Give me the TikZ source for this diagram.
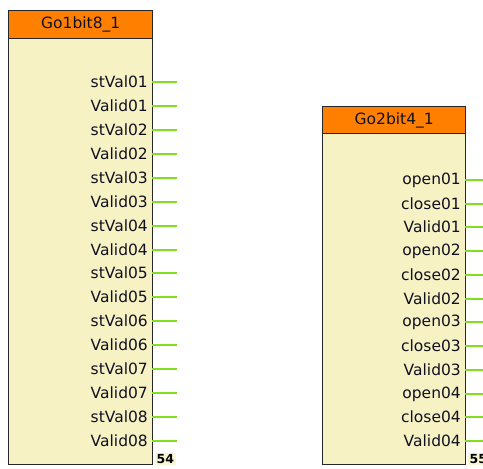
\documentclass[tikz,border=0pt]{standalone}
\usepackage{fontspec}
\setmainfont{DejaVu Sans}
\definecolor{hdr}{HTML}{FF8000}
\definecolor{bodyc}{HTML}{F7F2C4}
\definecolor{pinc}{HTML}{80E020}
\definecolor{txt}{HTML}{101020}
\begin{document}
\begin{tikzpicture}[x=1pt,y=-1pt,
  blockbody/.style={draw=black!85,line width=1.4pt,fill=bodyc,inner sep=0pt,anchor=north west},
  blockhdr/.style={draw=black!85,line width=1.4pt,fill=hdr,inner sep=0pt,anchor=north west,font=\fontsize{15.5}{17}\selectfont,text=txt},
  pinlbl/.style={anchor=east,inner sep=0pt,font=\fontsize{15.5}{17}\selectfont,text=txt},
  pinline/.style={draw=pinc,line width=1.8pt},
  numlbl/.style={anchor=north west,fill=bodyc!70!white,inner sep=1.5pt,font=\bfseries\fontsize{12.5}{13}\selectfont,text=black}]
\useasboundingbox (0,0) rectangle (483,469);
\clip (0,0) rectangle (483,469);
% Block 1
\node[blockbody,minimum width=144pt,minimum height=454pt] (b1) at (8,10) {};
\node[blockhdr,minimum width=144pt,minimum height=28pt] (h1) at (8,10) {Go1bit8\_1};
\foreach \n [count=\i from 0] in {stVal01,Valid01,stVal02,Valid02,stVal03,Valid03,stVal04,Valid04,stVal05,Valid05,stVal06,Valid06,stVal07,Valid07,stVal08,Valid08}{
  \pgfmathsetmacro\yy{round(82+\i*23.93)}
  \coordinate (p1s\i) at (152,\yy);
  \coordinate (p1e\i) at (177,\yy);
  \node[pinlbl] (l1\i) at (148,\yy) {\n};
  \draw[pinline] (p1s\i) -- (p1e\i);
}
\node[numlbl] (n1) at (155,453) {54};
% Block 2
\node[blockbody,minimum width=143pt,minimum height=358pt] (b2) at (322,106) {};
\node[blockhdr,minimum width=143pt,minimum height=27pt] (h2) at (322,106) {Go2bit4\_1};
\foreach \n [count=\i from 0] in {open01,close01,Valid01,open02,close02,Valid02,open03,close03,Valid03,open04,close04,Valid04}{
  \pgfmathsetmacro\yy{round(180+\i*23.73)}
  \coordinate (p2s\i) at (465,\yy);
  \coordinate (p2e\i) at (490,\yy);
  \node[pinlbl] (l2\i) at (461,\yy) {\n};
  \draw[pinline] (p2s\i) -- (p2e\i);
}
\node[numlbl] (n2) at (468,453) {55};
\end{tikzpicture}
\end{document}
